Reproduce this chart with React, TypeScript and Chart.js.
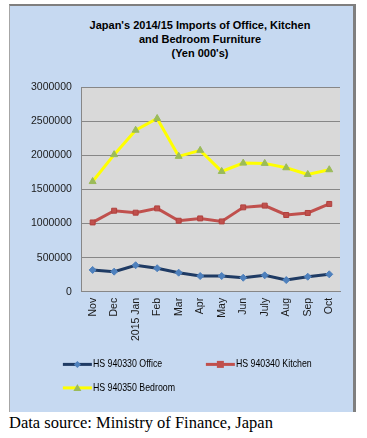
import React, { useEffect, useRef } from "react";
import { Chart, registerables } from "chart.js";

Chart.register(...registerables);

const categories = ["Nov", "Dec", "2015 Jan", "Feb", "Mar", "Apr", "May", "Jun", "July", "Aug", "Sep", "Oct"];
const officeValues = [320000, 295000, 389000, 345000, 280000, 231000, 231000, 206000, 241000, 172000, 221000, 256000];
const kitchenValues = [1016000, 1188000, 1159000, 1222000, 1041000, 1075000, 1031000, 1237000, 1262000, 1125000, 1155000, 1287000];
const bedroomValues = [1615000, 2009000, 2367000, 2539000, 1984000, 2072000, 1763000, 1885000, 1881000, 1817000, 1719000, 1788000];
const seriesNames = ["HS 940330 Office", "HS 940340 Kitchen", "HS 940350 Bedroom"];
const yMin = 0;
const yMax = 3000000;
const yStep = 500000;
const titleLines = ["Japan's 2014/15  Imports of Office, Kitchen", "and Bedroom Furniture", "(Yen 000's)"];
const sourceText = "Data source: Ministry of Finance, Japan";

const FONT = "'Liberation Sans', Arial, sans-serif";

const plotBackground = {
  id: "plotBackground",
  beforeDraw(chart: any) {
    const { ctx, chartArea } = chart;
    ctx.save();
    ctx.fillStyle = "#d9d9d9";
    ctx.fillRect(chartArea.left, chartArea.top, chartArea.right - chartArea.left, chartArea.bottom - chartArea.top);
    ctx.restore();
  },
};

function drawMarker(ctx: CanvasRenderingContext2D, style: string, x: number, y: number, r: number, color: string) {
  ctx.fillStyle = color;
  ctx.beginPath();
  if (style === "rectRot") {
    ctx.moveTo(x, y - r);
    ctx.lineTo(x + r, y);
    ctx.lineTo(x, y + r);
    ctx.lineTo(x - r, y);
  } else if (style === "rect") {
    ctx.rect(x - r, y - r, 2 * r, 2 * r);
  } else {
    ctx.moveTo(x, y - r);
    ctx.lineTo(x + r, y + r * 0.8);
    ctx.lineTo(x - r, y + r * 0.8);
  }
  ctx.closePath();
  ctx.fill();
}

const gridLegend = {
  id: "gridLegend",
  afterDraw(chart: any) {
    const { ctx, chartArea } = chart;
    ctx.save();
    chart.data.datasets.forEach((ds: any, i: number) => {
      const col = i % 2;
      const row = Math.floor(i / 2);
      const x0 = chartArea.left - 19 + col * 143;
      const y = chartArea.bottom + 72.6 + row * 23.5;
      ctx.strokeStyle = ds.borderColor;
      ctx.lineWidth = 3;
      ctx.beginPath();
      ctx.moveTo(x0, y);
      ctx.lineTo(x0 + 29, y);
      ctx.stroke();
      drawMarker(ctx, ds.pointStyle, x0 + 14.5, y, ds.pointRadius, ds.pointBackgroundColor);
      ctx.save();
      ctx.translate(x0 + 30, y);
      ctx.scale(0.8, 1);
      ctx.fillStyle = "#000";
      ctx.font = `11px ${FONT}`;
      ctx.textBaseline = "middle";
      ctx.textAlign = "left";
      ctx.fillText(ds.label, 0, 0);
      ctx.restore();
    });
    ctx.restore();
  },
};

function LineChart() {
  const ref = useRef<HTMLCanvasElement>(null);
  useEffect(() => {
    if (!ref.current) return;
    const chart = new Chart(ref.current, {
      type: "line",
      data: {
        labels: categories,
        datasets: [
          {
            label: seriesNames[0],
            data: officeValues,
            borderColor: "#1f3b64",
            borderWidth: 3,
            pointStyle: "rectRot",
            pointRadius: 3.5,
            pointBackgroundColor: "#4f81bd",
            pointBorderColor: "#4f81bd",
            pointBorderWidth: 1,
          },
          {
            label: seriesNames[1],
            data: kitchenValues,
            borderColor: "#c0504d",
            borderWidth: 3,
            pointStyle: "rect",
            pointRadius: 3.5,
            pointBackgroundColor: "#c0504d",
            pointBorderColor: "#b0403d",
            pointBorderWidth: 1,
          },
          {
            label: seriesNames[2],
            data: bedroomValues,
            borderColor: "#ffff00",
            borderWidth: 3,
            pointStyle: "triangle",
            pointRadius: 4,
            pointBackgroundColor: "#9bbb59",
            pointBorderColor: "#9bbb59",
            pointBorderWidth: 1,
          },
        ] as any,
      },
      options: {
        responsive: false,
        animation: false,
        layout: { padding: { left: 11, right: 13, top: 25, bottom: 65 } },
        plugins: {
          legend: { display: false },
          title: { display: false },
          tooltip: { enabled: false },
        },
        scales: {
          x: {
            offset: true,
            grid: { display: false, drawTicks: false },
            border: { display: true, color: "#878787", width: 1 },
            ticks: {
              minRotation: 90,
              maxRotation: 90,
              autoSkip: false,
              padding: 6,
              color: "#1a1a1a",
              font: { family: FONT, size: 10.5 },
            },
          },
          y: {
            min: yMin,
            max: yMax,
            grid: { color: "#878787", drawTicks: false },
            border: { display: true, color: "#878787", width: 1 },
            ticks: {
              stepSize: yStep,
              padding: 10,
              color: "#1a1a1a",
              font: { family: FONT, size: 10.5 },
              callback: (v: any) => String(v),
            },
          },
        },
      },
      plugins: [plotBackground, gridLegend],
    });
    return () => chart.destroy();
  }, []);
  return <canvas ref={ref} width={343} height={350} style={{ position: "absolute", left: 10, top: 62, width: 343, height: 350 }} />;
}

export default function App() {
  return (
    <div style={{ position: "absolute", left: 0, top: 0, width: 367, height: 438, overflow: "hidden", background: "#fff" }}>
      <div
        style={{
          position: "absolute",
          left: 9,
          top: 4,
          width: 343,
          height: 406,
          background: "#c6d9f1",
          borderLeft: "1px solid #a6a6a6",
          borderTop: "2px solid #7f7f7f",
          borderRight: "3px solid #7f7f7f",
        }}
      />
      <div
        style={{
          position: "absolute",
          left: 60,
          top: 18,
          width: 280,
          textAlign: "center",
          fontFamily: "'Liberation Sans', Arial, sans-serif",
          fontWeight: "bold",
          fontSize: 11,
          lineHeight: "14px",
          whiteSpace: "nowrap",
          color: "#000",
        }}
      >
        {titleLines.map((t, i) => (
          <div key={i}>{t}</div>
        ))}
      </div>
      <LineChart />
      <div
        style={{
          position: "absolute",
          left: 9,
          top: 414,
          fontFamily: "'Liberation Serif', 'Times New Roman', serif",
          fontSize: 16.5,
          lineHeight: "18px",
          whiteSpace: "nowrap",
          color: "#000",
        }}
      >
        {sourceText}
      </div>
    </div>
  );
}
